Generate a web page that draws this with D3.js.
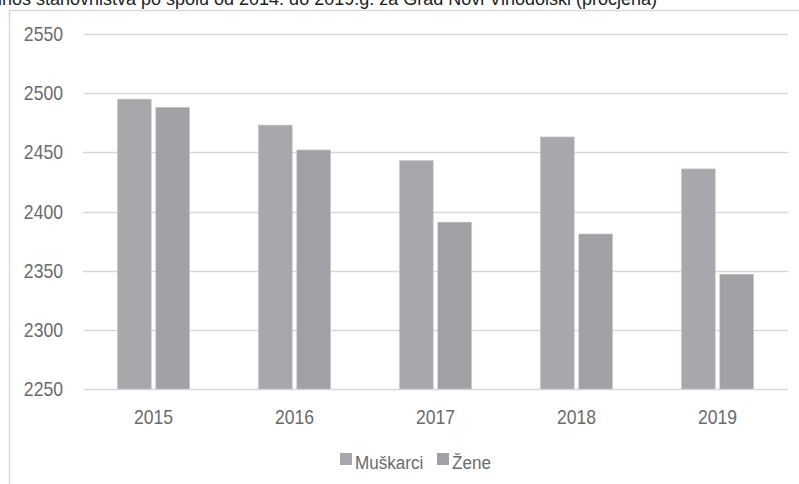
<!DOCTYPE html>
<html>
<head>
<meta charset="utf-8">
<script src="https://cdn.jsdelivr.net/npm/d3@7"></script>
<style>
  body { margin: 0; background: #fff; }
  svg { display: block; font-family: "Liberation Sans", Arial, sans-serif; }
</style>
</head>
<body>
<svg id="chart" width="799" height="484"></svg>
<script>
var years = ["2015", "2016", "2017", "2018", "2019"],
  muskarci = [2495, 2473, 2443, 2463, 2436],
  zene = [2488, 2452, 2391, 2381, 2347],
  yTicks = [2250, 2300, 2350, 2400, 2450, 2500, 2550],
  seriesNames = ["Muškarci", "Žene"],
  seriesColors = ["#a7a8ab", "#a0a1a4"];

var svg = d3.select("#chart"),
  margin = { top: 34, right: 11, bottom: 95, left: 83 },
  width = +svg.attr("width") - margin.left - margin.right,
  height = +svg.attr("height") - margin.top - margin.bottom;

var textColor = "#6b6b6b", gridColor = "#d9d9d9";

// chart area border (clipped by the picture on the right and bottom)
svg.append("path")
  .attr("d", "M9.5,484V10.5H799")
  .attr("fill", "none")
  .attr("stroke", gridColor)
  .attr("stroke-width", 1.5);

// title, partly cut off at the top like in the source picture
svg.append("text")
  .attr("x", 657)
  .attr("y", 5)
  .attr("text-anchor", "end")
  .attr("font-size", 18)
  .attr("fill", "#222")
  .text("Odnos stanovništva po spolu od 2014. do 2019.g. za Grad Novi Vinodolski (procjena)");

var x = d3.scaleBand().domain(years).range([0, width]),
  x1 = d3.scaleBand().domain(seriesNames).range([0, 72]).paddingInner(0.12),
  y = d3.scaleLinear().domain([2250, 2550]).range([height, 0]);

var g = svg.append("g")
  .attr("transform", "translate(" + margin.left + "," + margin.top + ")");

// grid lines
g.append("g")
  .selectAll("line")
  .data(yTicks)
  .enter().append("line")
  .attr("x1", 0)
  .attr("x2", width)
  .attr("y1", function (d) { return Math.round(y(d)) + 0.5; })
  .attr("y2", function (d) { return Math.round(y(d)) + 0.5; })
  .attr("stroke", gridColor)
  .attr("stroke-width", 1.3);

// y tick labels
g.append("g")
  .selectAll("text")
  .data(yTicks)
  .enter().append("text")
  .attr("transform", function (d) { return "translate(-20," + (y(d) + 7) + ") scale(0.88,1)"; })
  .attr("text-anchor", "end")
  .attr("font-size", 20)
  .attr("fill", textColor)
  .text(function (d) { return d; });

// x tick labels
g.append("g")
  .selectAll("text")
  .data(years)
  .enter().append("text")
  .attr("transform", function (d) { return "translate(" + (x(d) + x.bandwidth() / 2) + "," + (height + 35) + ") scale(0.88,1)"; })
  .attr("text-anchor", "middle")
  .attr("font-size", 20)
  .attr("fill", textColor)
  .text(function (d) { return d; });

// bars
var rows = years.map(function (yr, i) {
  return { year: yr, values: [muskarci[i], zene[i]] };
});

var groups = g.selectAll(".year")
  .data(rows)
  .enter().append("g")
  .attr("class", "year")
  .attr("transform", function (d) { return "translate(" + (x(d.year) + x.bandwidth() / 2 - 36) + ",0)"; });

groups.selectAll("rect")
  .data(function (d) { return d.values.map(function (v, j) { return { s: j, v: v }; }); })
  .enter().append("rect")
  .attr("x", function (d) { return x1(seriesNames[d.s]); })
  .attr("y", function (d) { return y(d.v); })
  .attr("width", x1.bandwidth())
  .attr("height", function (d) { return height - y(d.v); })
  .attr("fill", function (d) { return seriesColors[d.s]; })
  .attr("stroke", "#c4c5c7")
  .attr("stroke-width", 0.6);

// legend
var legend = svg.append("g").attr("transform", "translate(340,463)");
var legX = [0, 97];
seriesNames.forEach(function (name, i) {
  var item = legend.append("g").attr("transform", "translate(" + legX[i] + ",0)");
  item.append("rect")
    .attr("x", 0).attr("y", -10)
    .attr("width", 12).attr("height", 12)
    .attr("fill", seriesColors[i]);
  item.append("text")
    .attr("transform", "translate(15,6) scale(0.9,1)")
    .attr("font-size", 19)
    .attr("fill", textColor)
    .text(name);
});
</script>
</body>
</html>
